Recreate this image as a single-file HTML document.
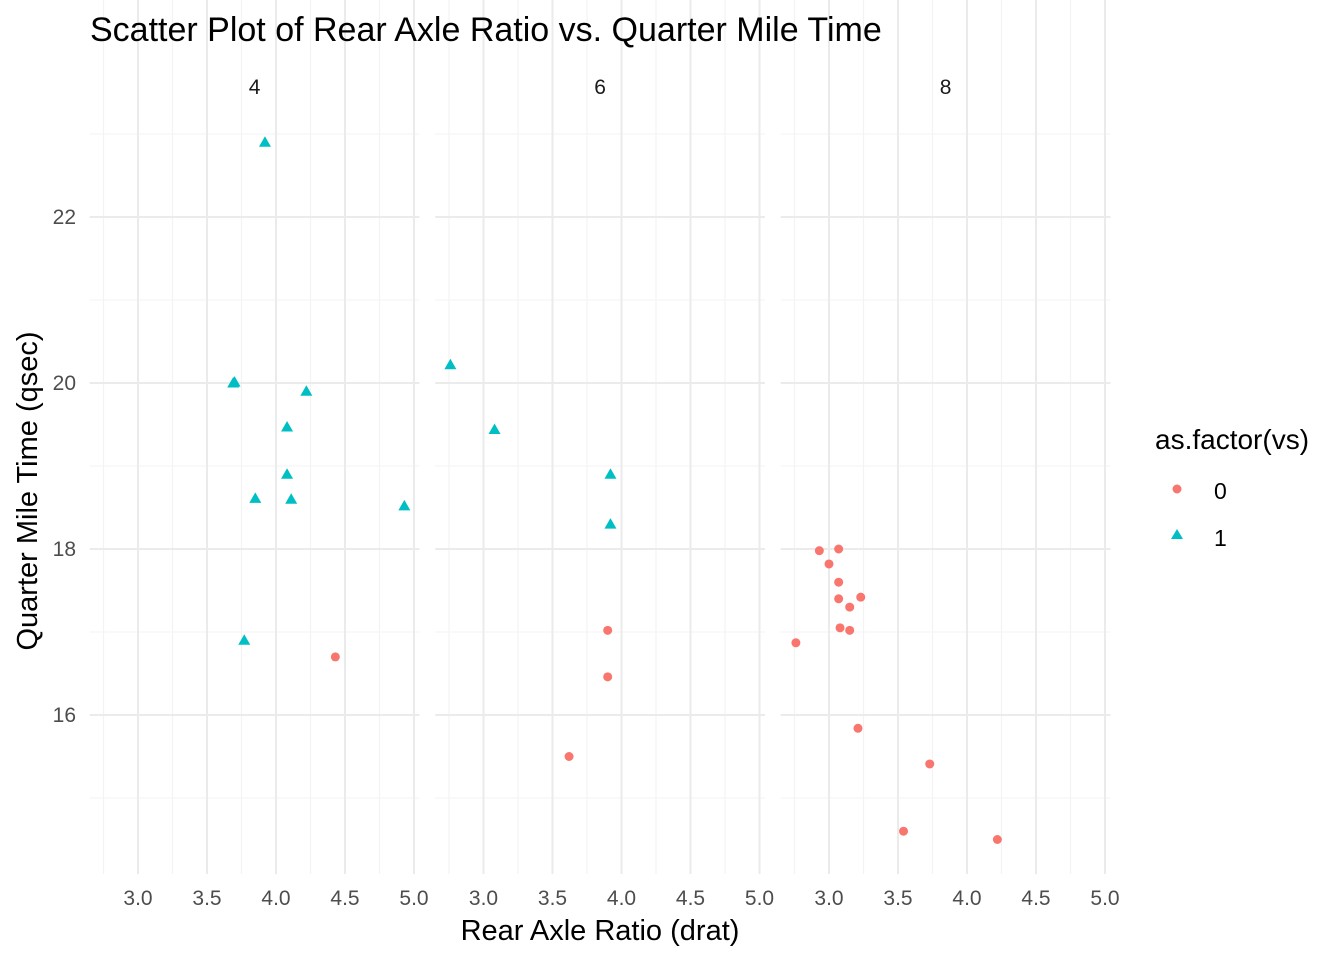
<!DOCTYPE html>
<html><head><meta charset="utf-8"><style>
body{margin:0;background:#fff}
svg{display:block;font-family:"Liberation Sans",Arial,sans-serif}
</style></head><body>
<svg id="s" width="1344" height="960" xmlns="http://www.w3.org/2000/svg">
<rect width="1344" height="960" fill="#fff"/>
<g id="g"></g>
<text x="90" y="41" font-size="34" fill="#000">Scatter Plot of Rear Axle Ratio vs. Quarter Mile Time</text>
<text x="600" y="940" font-size="29" text-anchor="middle" fill="#000">Rear Axle Ratio (drat)</text>
<text transform="translate(37,491) rotate(-90)" font-size="29" text-anchor="middle" fill="#000">Quarter Mile Time (qsec)</text>
<text x="1155" y="449" font-size="28" fill="#000">as.factor(vs)</text>
<circle cx="1177" cy="489" r="4.5" fill="#F8766D"/>
<polygon points="1177,529 1183,539 1171,539" fill="#00BFC4"/>
<text x="1214" y="499" font-size="23" fill="#000">0</text>
<text x="1214" y="546" font-size="23" fill="#000">1</text>
</svg>
<script>
var d=[[3.90,16.46,0,6],[3.90,17.02,0,6],[3.85,18.61,1,4],[3.08,19.44,1,6],[3.15,17.02,0,8],[2.76,20.22,1,6],[3.21,15.84,0,8],[3.69,20.00,1,4],[3.92,22.90,1,4],[3.92,18.30,1,6],[3.92,18.90,1,6],[3.07,17.40,0,8],[3.07,17.60,0,8],[3.07,18.00,0,8],[2.93,17.98,0,8],[3.00,17.82,0,8],[3.23,17.42,0,8],[4.08,19.47,1,4],[4.93,18.52,1,4],[4.22,19.90,1,4],[3.70,20.01,1,4],[2.76,16.87,0,8],[3.15,17.30,0,8],[3.73,15.41,0,8],[3.08,17.05,0,8],[4.08,18.90,1,4],[4.43,16.70,0,4],[3.77,16.90,1,4],[4.22,14.50,0,8],[3.62,15.50,0,6],[3.54,14.60,0,8],[4.11,18.60,1,4]];
var off={4:0,6:345.5,8:691},cyl=[4,6,8],h='';
function X(v,c){return 138+off[c]+(v-3)*138}
function Y(v){return 383-(v-20)*83}
var top=107,bot=874;
cyl.forEach(function(c){
 var l=X(2.65,c),r=X(5.04,c);
 for(var v=2.75;v<5.1;v+=0.5)h+='<line x1="'+X(v,c)+'" x2="'+X(v,c)+'" y1="'+top+'" y2="'+bot+'" stroke="#f3f3f3" stroke-width="1.1"/>';
 for(var v=15;v<=23;v+=2)h+='<line x1="'+l+'" x2="'+r+'" y1="'+Y(v)+'" y2="'+Y(v)+'" stroke="#f3f3f3" stroke-width="1.1"/>';
 for(var v=3;v<=5;v+=0.5){h+='<line x1="'+X(v,c)+'" x2="'+X(v,c)+'" y1="'+top+'" y2="'+bot+'" stroke="#ebebeb" stroke-width="2"/>';
  h+='<text x="'+X(v,c)+'" y="905" font-size="21" text-anchor="middle" fill="#4d4d4d">'+v.toFixed(1)+'</text>';}
 for(var v=16;v<=22;v+=2)h+='<line x1="'+l+'" x2="'+r+'" y1="'+Y(v)+'" y2="'+Y(v)+'" stroke="#ebebeb" stroke-width="2"/>';
 h+='<text x="'+((l+r)/2)+'" y="94" font-size="21" text-anchor="middle" fill="#1a1a1a">'+c+'</text>';
});
for(var v=16;v<=22;v+=2)h+='<text x="76" y="'+(Y(v)+7)+'" font-size="21" text-anchor="end" fill="#4d4d4d">'+v+'</text>';
d.forEach(function(p){var x=X(p[0],p[3]),y=Y(p[1]);
 if(p[2]==0)h+='<circle cx="'+x+'" cy="'+y+'" r="4.5" fill="#F8766D"/>';
 else h+='<polygon points="'+x+','+(y-6)+' '+(x+6)+','+(y+4.5)+' '+(x-6)+','+(y+4.5)+'" fill="#00BFC4"/>';});
document.getElementById('g').innerHTML=h;
</script>
</body></html>
